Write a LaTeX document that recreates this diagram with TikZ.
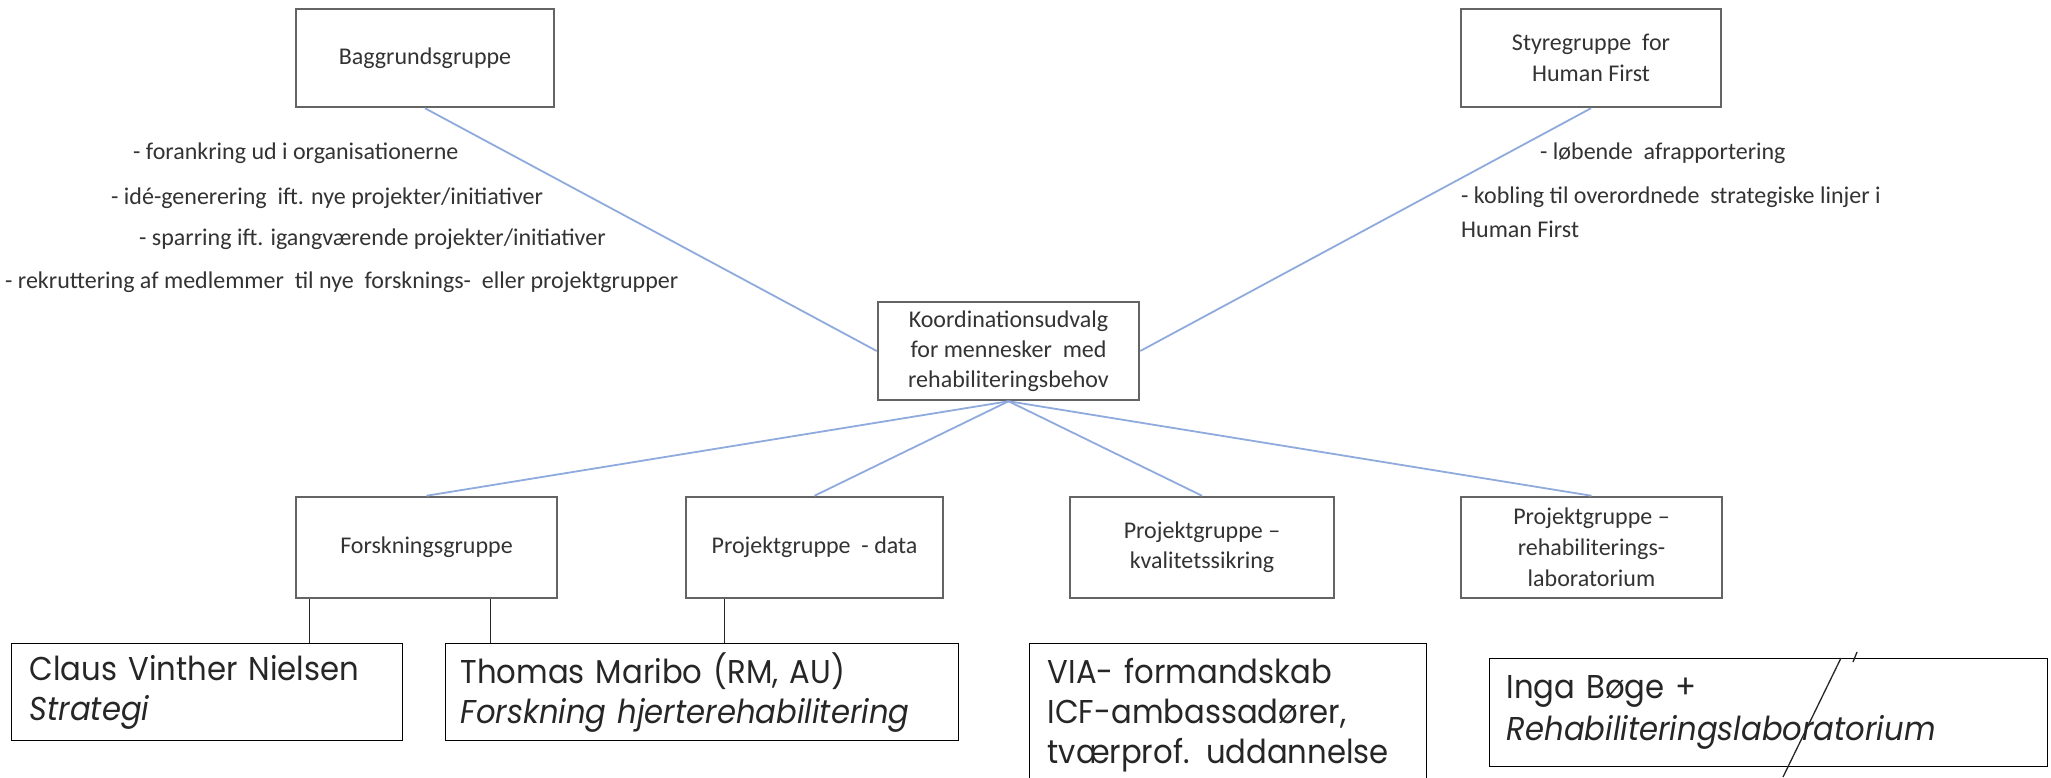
\documentclass[tikz,border=0pt]{standalone}
\usepackage{fontspec}
\newfontfamily\carl{Carlito}
\newfontfamily\goth[FakeStretch=0.93]{Poppins}
\definecolor{boxgray}{HTML}{646464}
\definecolor{linkblue}{HTML}{8FAADC}
\definecolor{txtgray}{HTML}{333333}
\begin{document}
\begin{tikzpicture}[x=1pt,y=-1pt,
  grpbox/.style={draw=boxgray,line width=2.5pt,inner sep=0pt,align=center,
    text=txtgray,font=\carl\fontsize{24}{30}\selectfont},
  link/.style={draw=linkblue,line width=1.8pt},
  note/.style={inner sep=0pt,anchor=west,text=txtgray,font=\carl\fontsize{24}{30}\selectfont},
  person/.style={draw=black,line width=1.4pt,anchor=north west,inner ysep=0pt,
    align=left,text=black!85,font=\goth\fontsize{33}{40}\selectfont},
  tie/.style={draw=black!85,line width=1.3pt}]
\useasboundingbox (0,0) rectangle (2051,777);
\clip (0,0) rectangle (2051,777);
\fill[white] (0,0) rectangle (2051,777);

% upper boxes
\node[grpbox,minimum width=258pt,minimum height=98pt] (bagg) at (425,58) {Baggrundsgruppe};
\node[grpbox,minimum width=260pt,minimum height=98pt,font=\carl\fontsize{24}{31}\selectfont] (styre) at (1591,58) {Styregruppe\ \ for\\Human First};
\node[grpbox,minimum width=261pt,minimum height=98pt] (koord) at (1008.5,351) {Koordinationsudvalg\\for mennesker\ \ med\\rehabiliteringsbehov};

% lower group boxes
\node[grpbox,minimum width=261pt,minimum height=101pt] (forsk) at (426.5,547.5) {Forskningsgruppe};
\node[grpbox,minimum width=257pt,minimum height=101pt] (pdata) at (814.5,547.5) {Projektgruppe\ \ -\ data};
\node[grpbox,minimum width=264pt,minimum height=101pt] (kval) at (1202,547.5) {Projektgruppe –\\kvalitetssikring};
\node[grpbox,minimum width=261pt,minimum height=101pt,font=\carl\fontsize{24}{31}\selectfont] (rehab) at (1591.5,547.5) {Projektgruppe –\\rehabiliterings-\\laboratorium};

% notes
\node[note] (n1) at (133,153) {- forankring ud i organisationerne};
\node[note] (n2) at (111,198) {- idé-generering\ \ ift. nye projekter/initiativer};
\node[note] (n3) at (139,239) {- sparring ift. igangværende projekter/initiativer};
\node[note] (n4) at (5,282) {- rekruttering af medlemmer\ \ til nye\ \ forsknings-\ \ eller projektgrupper};
\node[note] (n5) at (1540,153) {- løbende\ \ afrapportering};
\node[note] (n6) at (1461,197) {- kobling til overordnede\ \ strategiske linjer i};
\node[note] (n7) at (1461,229) {Human First};

% connectors
\draw[link] (bagg.south) -- (koord.west);
\draw[link] (styre.south) -- (koord.east);
\draw[link] (koord.south) -- (forsk.north);
\draw[link] (koord.south) -- (pdata.north);
\draw[link] (koord.south) -- (kval.north);
\draw[link] (koord.south) -- (rehab.north);

% people boxes
\node[person,text width=355pt,inner xsep=18pt,minimum height=97pt] (claus) at (11,643)
  {Claus Vinther Nielsen\\\itshape Strategi};
\node[person,text width=483pt,inner xsep=15pt,minimum height=97pt] (thomas) at (445,643)
  {Thomas Maribo (RM, AU)\\\itshape Forskning hjerterehabilitering};
\node[person,text width=361pt,inner xsep=18pt,minimum height=142pt] (via) at (1029,643)
  {VIA- formandskab\\ICF-ambassadører,\\tværprof. uddannelse};
\node[person,text width=524pt,inner xsep=17pt,minimum height=108pt,font=\goth\fontsize{33}{42}\selectfont] (inga) at (1489,658)
  {Inga Bøge +\\\itshape Rehabiliteringslaboratorium};

% ties
\path (forsk.south west) ++(15,0) coordinate (t1);
\path (forsk.south west) ++(196,0) coordinate (t2);
\path (pdata.south west) ++(40,0) coordinate (t3);
\draw[tie] (t1) -- (t1 |- claus.north);
\draw[tie] (t2) -- (t2 |- thomas.north);
\draw[tie] (t3) -- (t3 |- thomas.north);

% stray slash over the Inga box
\path (inga.north west) ++(352,0) coordinate (s1);
\path (s1) ++(-58,119) coordinate (s2);
\draw[tie] (s1) -- (s2);
\path (s1) ++(16,-6) coordinate (s3);
\path (s3) ++(-4,10) coordinate (s4);
\draw[tie] (s3) -- (s4);
\end{tikzpicture}
\end{document}
